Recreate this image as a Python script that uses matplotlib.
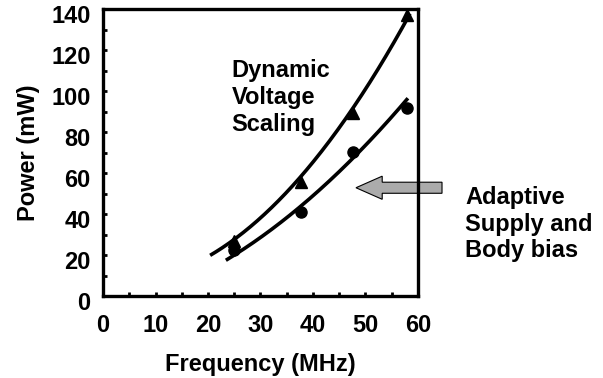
import numpy as np
import matplotlib.pyplot as plt
import matplotlib.transforms as mtransforms
from matplotlib.patches import FancyArrow

plt.rcParams['font.family'] = ['Liberation Sans', 'DejaVu Sans']
plt.rcParams['font.weight'] = 'bold'

# measured points (MHz, mW)
freq = [25, 37.7, 47.7, 58]
dvs_power = [27, 56, 89.5, 137.5]   # triangles
abb_power = [22.5, 41, 70.5, 92]    # circles

# trend curves
dvs_curve_f = [20.4, 24.8, 37.5, 47.0, 58.5]
dvs_curve_p = [19.3, 28.5, 57.5, 89.5, 138.0]
abb_curve_f = [23.4, 25.0, 37.5, 47.6, 58.1]
abb_curve_p = [17.6, 20.8, 41.2, 70.0, 95.8]

xticks = [0, 10, 20, 30, 40, 50, 60]
yticks = [0, 20, 40, 60, 80, 100, 120, 140]

fig = plt.figure(figsize=(6.03, 3.78), dpi=100)
ax = fig.add_axes([0.171, 0.216, 0.522, 0.759])

for cf, cp in [(dvs_curve_f, dvs_curve_p), (abb_curve_f, abb_curve_p)]:
    c = np.polyfit(cf, cp, 2)
    xm = np.linspace(cf[0], cf[-1], 200)
    ax.plot(xm, np.polyval(c, xm), color='black', lw=2.6, solid_capstyle='butt')

ax.plot(freq, dvs_power, '^', color='black', ms=8)
ax.plot(freq, abb_power, 'o', color='black', ms=8)

ax.set_xlim(0, 60)
ax.set_ylim(0, 140)
ax.set_xticks(xticks)
ax.set_yticks(yticks)
ax.set_xticks(np.arange(0, 61, 5), minor=True)
ax.set_yticks(np.arange(0, 141, 10), minor=True)
ax.tick_params(which='both', direction='in', length=3, width=2)
ax.tick_params(axis='x', which='major', pad=13, labelsize=17)
ax.tick_params(axis='y', which='major', pad=9, labelsize=17)
for s in ax.spines.values():
    s.set_linewidth(2.4)

# the original labels sit a little low
shift = mtransforms.ScaledTranslation(0, -5 / 100, fig.dpi_scale_trans)
for lab in ax.get_yticklabels():
    lab.set_transform(lab.get_transform() + shift)

ax.set_xlabel('Frequency (MHz)', fontsize=17, fontweight='bold', labelpad=11)
ax.set_ylabel('Power (mW)', fontsize=17, fontweight='bold', labelpad=8)

ax.text(24.5, 97, 'Dynamic\nVoltage\nScaling', fontsize=17, fontweight='bold',
        va='center', ha='left', linespacing=1.2)

arrow = FancyArrow(64.6, 53, -16.4, 0, width=5.4, head_width=11.3, head_length=5.0,
                   length_includes_head=True, facecolor='#ababab', edgecolor='black',
                   lw=0.8, clip_on=False)
ax.add_patch(arrow)

fig.text(0.771, 0.407, 'Adaptive\nSupply and\nBody bias', fontsize=17, fontweight='bold',
         va='center', ha='left', linespacing=1.2)

fig.savefig('out.png', dpi=100)
